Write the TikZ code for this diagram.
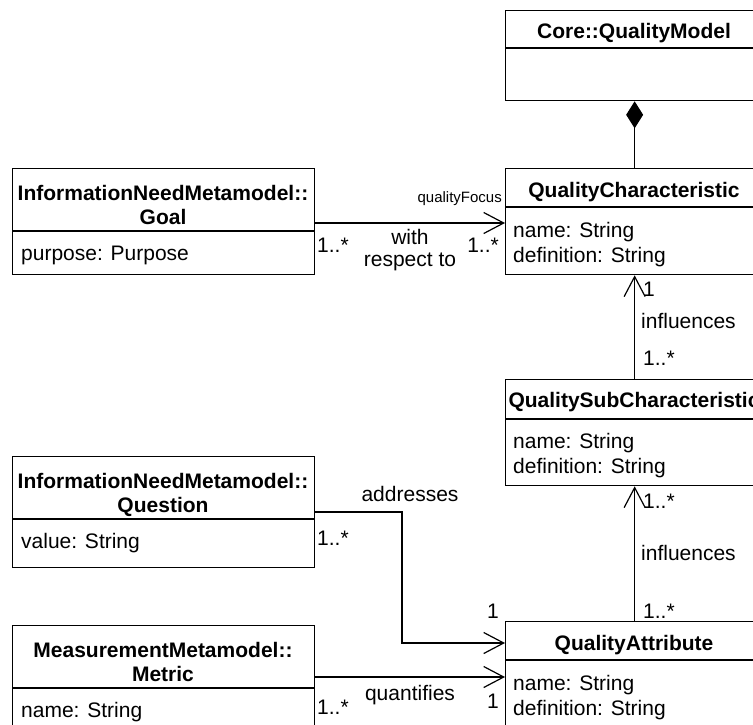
\documentclass[tikz,border=0pt]{standalone}
\usepackage{fontspec}
\setmainfont{Liberation Sans}
\usetikzlibrary{arrows.meta}
\begin{document}
\begin{tikzpicture}[x=1pt,y=-1pt,
  umlbox/.style={draw, line width=1.3pt, rectangle, inner sep=0pt, anchor=north west},
  divider/.style={line width=1.3pt},
  ttl/.style={font=\fontsize{21}{24}\selectfont\bfseries, inner sep=0pt, anchor=base},
  attr/.style={font=\fontsize{21}{24}\selectfont, inner sep=0pt, anchor=base west},
  lbl/.style={font=\fontsize{21}{24}\selectfont, inner sep=0pt},
  smalllbl/.style={font=\fontsize{15}{18}\selectfont, inner sep=0pt},
  assoc/.style={draw, line width=1.2pt, -{Straight Barb[length=20pt,width=21pt,line width=1.2pt]}},
  compo/.style={draw, line width=1.2pt, -{Diamond[length=27pt,width=17pt]}}]
\useasboundingbox (0,0) rectangle (753,724);
\clip (0,0) rectangle (753,724);

% ---- classes on the right ----
\node[umlbox, minimum width=258pt, minimum height=90pt] (core) at (505,10) {};
\draw[divider] (505,48) -- (763,48);
\node[ttl] (coreT) at (634,38) {Core::QualityModel};

\node[umlbox, minimum width=258pt, minimum height=106pt] (qc) at (505,168) {};
\draw[divider] (505,207) -- (763,207);
\node[ttl] (qcT) at (634,197) {QualityCharacteristic};
\node[attr] (qcA1) at (513,237) {name: String};
\node[attr] (qcA2) at (513,262) {definition: String};

\node[umlbox, minimum width=258pt, minimum height=106pt] (qsc) at (505,379) {};
\draw[divider] (505,419) -- (763,419);
\node[ttl] (qscT) at (634,407) {QualitySubCharacteristic};
\node[attr] (qscA1) at (513,448) {name: String};
\node[attr] (qscA2) at (513,473) {definition: String};

\node[umlbox, minimum width=258pt, minimum height=120pt] (qa) at (505,621) {};
\draw[divider] (505,660) -- (763,660);
\node[ttl] (qaT) at (634,650) {QualityAttribute};
\node[attr] (qaA1) at (513,690) {name: String};
\node[attr] (qaA2) at (513,715) {definition: String};

% ---- classes on the left ----
\node[umlbox, minimum width=302pt, minimum height=106pt] (goal) at (12,168) {};
\draw[divider] (12,231) -- (314,231);
\node[ttl] (goalT1) at (163,200) {InformationNeedMetamodel::};
\node[ttl] (goalT2) at (163,224) {Goal};
\node[attr] (goalA1) at (21,260) {purpose: Purpose};

\node[umlbox, minimum width=302pt, minimum height=111pt] (question) at (12,456) {};
\draw[divider] (12,519) -- (314,519);
\node[ttl] (questionT1) at (163,488) {InformationNeedMetamodel::};
\node[ttl] (questionT2) at (163,512) {Question};
\node[attr] (questionA1) at (21,548) {value: String};

\node[umlbox, minimum width=302pt, minimum height=120pt] (metric) at (12,625) {};
\draw[divider] (12,688) -- (314,688);
\node[ttl] (metricT1) at (163,657) {MeasurementMetamodel::};
\node[ttl] (metricT2) at (163,681) {Metric};
\node[attr] (metricA1) at (21,717) {name: String};

% ---- connectors ----
\draw[compo] (qc.north) -- (core.south);

\coordinate (goalLevel) at (0,223);
\draw[assoc] (goal.east |- goalLevel) -- (qc.west |- goalLevel);

\draw[assoc] (qsc.north) -- (qc.south);
\draw[assoc] (qa.north) -- (qsc.south);

\coordinate (addrTop) at (402,512);
\coordinate (addrBot) at (402,643);
\draw[assoc] (question.east |- addrTop) -- (addrTop) -- (addrBot) -- (qa.west |- addrBot);

\coordinate (metricLevel) at (0,677);
\draw[assoc] (metric.east |- metricLevel) -- (qa.west |- metricLevel);

% ---- association labels ----
\node[smalllbl, anchor=base east] (qfocus) at (502,202) {qualityFocus};
\node[lbl, anchor=base west] (goalMult) at (317,252) {1..*};
\node[lbl, anchor=base] (wrt1) at (410,244) {with};
\node[lbl, anchor=base] (wrt2) at (410,266) {respect to};
\node[lbl, anchor=base east] (qcMult) at (499,252) {1..*};

\node[lbl, anchor=base west] (inf1a) at (643,296) {1};
\node[lbl, anchor=base west] (inf1b) at (641,328) {influences};
\node[lbl, anchor=base west] (inf1c) at (643,365) {1..*};

\node[lbl, anchor=base west] (inf2a) at (643,508) {1..*};
\node[lbl, anchor=base west] (inf2b) at (641,560) {influences};
\node[lbl, anchor=base west] (inf2c) at (643,618) {1..*};

\node[lbl, anchor=base] (addr) at (410,501) {addresses};
\node[lbl, anchor=base west] (questionMult) at (317,545) {1..*};
\node[lbl, anchor=base east] (addrMult) at (499,618) {1};

\node[lbl, anchor=base] (quant) at (410,700) {quantifies};
\node[lbl, anchor=base west] (metricMult) at (317,714) {1..*};
\node[lbl, anchor=base east] (quantMult) at (499,708) {1};
\end{tikzpicture}
\end{document}
